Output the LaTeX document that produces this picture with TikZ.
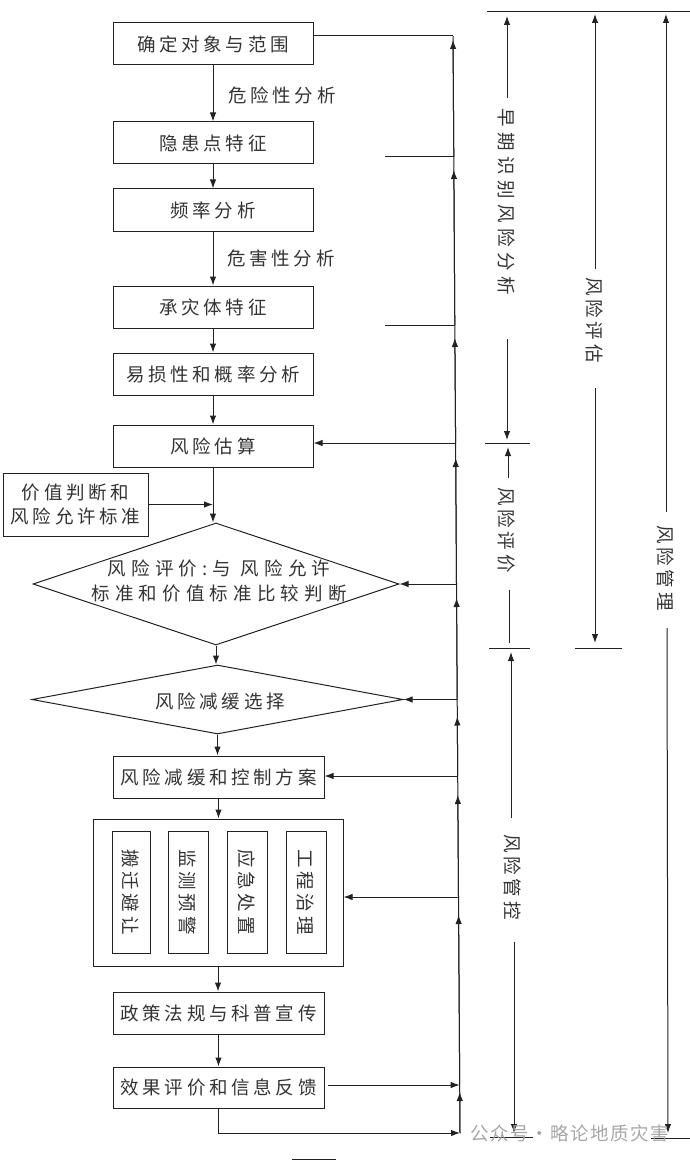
\documentclass[tikz,border=0pt]{standalone}
\usepackage{fontspec}
\newfontfamily\cjk[LetterSpace=20]{Noto Sans CJK SC}
\newfontfamily\cjkm[LetterSpace=30]{Noto Sans CJK SC}
\newfontfamily\cjkw[LetterSpace=28]{Noto Sans CJK SC}
\newfontfamily\cjkwm[LetterSpace=8]{Noto Sans CJK SC}
\usetikzlibrary{arrows.meta,shapes.geometric}
\definecolor{lnc}{HTML}{222222}
\definecolor{txc}{HTML}{333333}
\tikzset{
  plain/.style={draw=lnc, line width=1pt},
  arr/.style={draw=lnc, line width=1pt, -{Latex[length=9pt,width=6.5pt]}},
  box/.style={draw=lnc, line width=1pt, rectangle, inner sep=0pt, text=txc,
    font={\cjk\fontsize{18.5}{24}\selectfont}, align=center},
  dia/.style={draw=lnc, line width=1pt, diamond, aspect=3, inner sep=0pt},
  txt/.style={inner sep=0pt, text=txc, font={\cjk\fontsize{18.5}{24}\selectfont}, align=center},
  vt/.style={inner sep=0pt, text=txc, rotate=-90, font={\cjk\fontsize{18.5}{24}\selectfont}},
}
\begin{document}
\begin{tikzpicture}[x=1pt,y=-1pt]
\useasboundingbox (0,0) rectangle (690,1161);
% ---------- main column ----------
\node[box, minimum width=200pt, minimum height=42pt] (b1) at (213,44) {确定对象与范围};
\node[box, minimum width=200pt, minimum height=42pt] (b2) at (213,143) {隐患点特征};
\node[box, minimum width=200pt, minimum height=42pt] (b3) at (213,210) {频率分析};
\node[box, minimum width=200pt, minimum height=42pt] (b4) at (213,307) {承灾体特征};
\node[box, minimum width=200pt, minimum height=42pt] (b5) at (213,374) {易损性和概率分析};
\node[box, minimum width=200pt, minimum height=42pt] (b6) at (213,446) {风险估算};
\node[box, minimum width=145pt, minimum height=63pt] (lv) at (75.5,504.5) {价值判断和\\风险允许标准};
\node[dia, minimum width=366pt, minimum height=122pt] (d1) at (216,584) {};
\node[txt, font={\cjkw\fontsize{18.5}{25}\selectfont}] (d1t) at (219,581) {风险评价:与 风险允许\\标准和价值标准比较判断};
\node[dia, minimum width=371pt, minimum height=69pt] (d2) at (217.5,699.5) {};
\node[txt] (d2t) at (220,701) {风险减缓选择};
\node[box, minimum width=211pt, minimum height=42pt] (b7) at (218.5,777) {风险减缓和控制方案};
\node[box, minimum width=250pt, minimum height=147pt] (ob) at (218,892.5) {};
\node[box, rotate=-90, minimum width=122pt, minimum height=38pt] (i1) at (131,892) {搬迁避让};
\node[box, rotate=-90, minimum width=122pt, minimum height=40pt] (i2) at (188,892) {监测预警};
\node[box, rotate=-90, minimum width=122pt, minimum height=40pt] (i3) at (247,892) {应急处置};
\node[box, rotate=-90, minimum width=122pt, minimum height=40pt] (i4) at (306,892) {工程治理};
\node[box, minimum width=211pt, minimum height=42pt] (b8) at (218.5,1013) {政策法规与科普宣传};
\node[box, minimum width=211pt, minimum height=41pt] (b9) at (218.5,1087.5) {效果评价和信息反馈};
\node[txt] (l1) at (282,95) {危险性分析};
\node[txt] (l2) at (281,258) {危害性分析};
% down arrows
\draw[arr] (b1) -- (b2);
\draw[arr] (b2) -- (b3);
\draw[arr] (b3) -- (b4);
\draw[arr] (b4) -- (b5);
\draw[arr] (b5) -- (b6);
\draw[arr] (b6.south) -- (b6.south |- d1.north);
\draw[arr] (lv.east) -- (b6.south |- lv.east);
\draw[arr] (d1.south) -- (d1.south |- d2.north);
\draw[arr] (d2.south) -- (d2.south |- b7.north);
\draw[arr] (b7.south) -- (b7.south |- ob.north);
\draw[arr] (ob.south) -- (ob.south |- b8.north);
\draw[arr] (b8) -- (b9);
% ---------- feedback line ----------
\coordinate (J1) at (453,36);
\coordinate (J2) at (453.8,157);
\coordinate (J3) at (454.8,325);
\coordinate (J4) at (455.6,443);
\coordinate (J5) at (456.5,584);
\coordinate (J6) at (457.2,699.5);
\coordinate (J7) at (457.7,776);
\coordinate (J8) at (458.5,897);
\coordinate (J9) at (459.7,1085);
\coordinate (J10) at (460,1133);
\draw[plain] (J10) -- (J9) -- (J8) -- (J7) -- (J6) -- (J5) -- (J4) -- (J3) -- (J2) -- (J1);
\draw[arr, shorten >=4pt] (J2) -- (J1);
\draw[arr, shorten >=13pt] (J3) -- (J2);
\draw[arr, shorten >=13pt] (J4) -- (J3);
\draw[arr, shorten >=15pt] (J5) -- (J4);
\draw[arr, shorten >=14pt] (J6) -- (J5);
\draw[arr, shorten >=17pt] (J7) -- (J6);
\draw[arr, shorten >=19pt] (J8) -- (J7);
\draw[arr, shorten >=18pt] (J9) -- (J8);
\draw[arr, shorten >=7pt] (J10) -- (J9);
\coordinate (h2) at (385,157);
\coordinate (h3) at (385,325);
\draw[plain] ([yshift=8pt]b1.east) -- (J1);
\draw[plain] (h2) -- (J2);
\draw[plain] (h3) -- (J3);
\draw[arr] (J4) -- (b6.east |- J4);
\draw[arr] (J5) -- (d1.east);
\draw[arr] (J6) -- (d2.east);
\draw[arr] (J7) -- (b7.east |- J7);
\draw[arr] (J8) -- (ob.east |- J8);
\draw[arr] ([xshift=3pt]b9.east |- J9) -- (J9);
\draw[arr] (b9.south) -- (b9.south |- J10) -- (J10);
% ---------- right dimension columns ----------
\coordinate (TL) at (487,12);
\coordinate (TR) at (690,12);
\draw[plain] (TL) -- (TR);
% column A
\coordinate (a1) at (507,98);
\draw[arr, shorten >=4pt] (a1) -- (a1 |- TL);
\node[vt, font={\cjkm\fontsize{18.5}{24}\selectfont}] (ta) at (507,202) {早期识别风险分析};
\coordinate (a2) at (507,339);
\coordinate (k1) at (507,443);
\draw[arr, shorten >=3pt] (a2) -- (k1);
\coordinate (k1l) at (485,443);
\coordinate (k1r) at (530,443);
\draw[plain] (k1l) -- (k1r);
\coordinate (a3) at (508,478);
\draw[arr, shorten >=4pt] (a3) -- (a3 |- k1);
\node[vt] (tb) at (507,530) {风险评价};
\coordinate (a4) at (509,590);
\coordinate (a4e) at (509,643);
\draw[plain] (a4) -- (a4e);
\coordinate (k2l) at (489,648);
\coordinate (k2r) at (530,648);
\draw[plain] (k2l) -- (k2r);
\coordinate (a5) at (511,818);
\draw[arr, shorten >=4pt] (a5) -- (a5 |- k2l);
\node[vt] (tc) at (513,877) {风险管控};
\coordinate (a6) at (514,942);
\coordinate (k3) at (514,1137);
\draw[arr, shorten >=4pt] (a6) -- (k3);
\coordinate (k3l) at (490,1137);
\coordinate (k3r) at (533,1137);
\draw[plain] (k3l) -- (k3r);
% column B
\coordinate (bb1) at (595,269);
\draw[arr, shorten >=2pt] (bb1) -- (bb1 |- TL);
\node[vt] (td) at (595,320) {风险评估};
\coordinate (bb2) at (595,388);
\coordinate (kb) at (595,648);
\draw[arr, shorten >=5pt] (bb2) -- (kb);
\coordinate (kbl) at (575,648);
\coordinate (kbr) at (622,648);
\draw[plain] (kbl) -- (kbr);
% column C
\coordinate (cc1) at (666,512);
\draw[arr, shorten >=2pt] (cc1) -- (cc1 |- TL);
\node[vt] (te) at (666,568) {风险管理};
\coordinate (cc2) at (667,628);
\coordinate (kc) at (668,1138);
\draw[arr, shorten >=5pt] (cc2) -- (kc);
\coordinate (kcl) at (651,1138);
\coordinate (kcr) at (690,1138);
\draw[plain] (kcl) -- (kcr);
% ---------- watermark and stub ----------
\node[inner sep=0pt, text=black!35, font={\cjkwm\fontsize{18.5}{22}\selectfont}] (wm) at (570,1133) {公众号·略论地质灾害};
\coordinate (s1) at (292,1159);
\coordinate (s2) at (336,1159);
\draw[plain] (s1) -- (s2);
\end{tikzpicture}
\end{document}
